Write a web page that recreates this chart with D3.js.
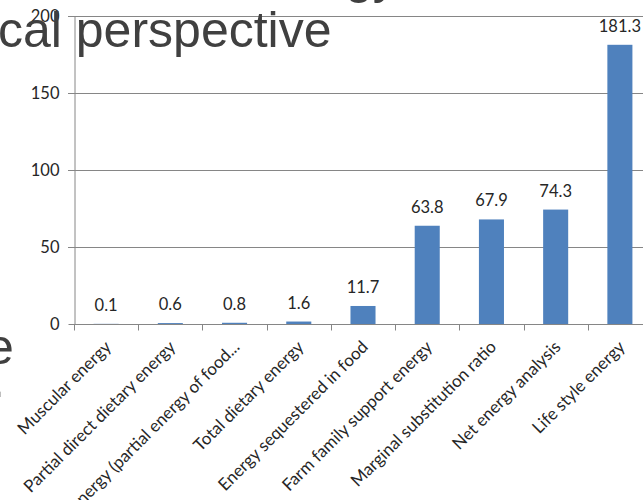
<!DOCTYPE html>
<html><head><meta charset="utf-8">
<script src="https://cdn.jsdelivr.net/npm/d3@7"></script>
<style>body{margin:0;background:#fff;overflow:hidden}svg{display:block}</style>
</head><body>
<script>
const categories = ["Muscular energy","Partial direct dietary energy","Indirect dietary energy (partial energy of food...","Total dietary energy","Energy sequestered in food","Farm family support energy","Marginal substitution ratio","Net energy analysis","Life style energy"];
const values = [0.1,0.6,0.8,1.6,11.7,63.8,67.9,74.3,181.3];
const yTicks = [0,50,100,150,200];

const W=643,H=500;
const svg=d3.select("body").append("svg").attr("width",W).attr("height",H);
const x=d3.scaleBand().domain(categories).range([74,652]).paddingInner(0.61).paddingOuter(0.305);
const y=d3.scaleLinear().domain([0,200]).range([324,16]);
const font="Lato, 'Open Sans', sans-serif";
const grey="#868686";
const txt="#262626";

// gridlines
svg.append("g").selectAll("line").data(yTicks.slice(1)).join("line")
  .attr("x1",68).attr("x2",W).attr("y1",d=>y(d)+0.5).attr("y2",d=>y(d)+0.5)
  .attr("stroke",grey).attr("stroke-width",1);

// y axis
const ya=svg.append("g").attr("transform","translate(74.5,0)")
  .call(d3.axisLeft(y).tickValues(yTicks).tickSize(6).tickPadding(9).tickSizeOuter(0));
ya.select(".domain").attr("stroke",grey);
ya.selectAll(".tick line").attr("stroke",grey);
ya.selectAll(".tick text").attr("font-family",font).attr("font-size","16.5px").attr("fill",txt);

// bars
svg.append("g").selectAll("rect").data(values).join("rect")
  .attr("x",(d,i)=>x(categories[i])).attr("width",x.bandwidth())
  .attr("y",d=>y(d)).attr("height",d=>y(0)-y(d)).attr("fill","#4F81BD");

// x axis
const xb=d3.scaleLinear().domain([0,categories.length]).range([74,652]);
const xa=svg.append("g").attr("transform","translate(0,324.5)");
xa.append("line").attr("x1",74).attr("x2",W).attr("stroke",grey);
xa.selectAll("line.t").data(d3.range(categories.length+1)).join("line").attr("class","t")
  .attr("x1",d=>Math.round(xb(d))+0.5).attr("x2",d=>Math.round(xb(d))+0.5).attr("y1",0).attr("y2",6).attr("stroke",grey);

// category labels
svg.append("g").selectAll("text").data(categories).join("text")
  .attr("transform",d=>`translate(${x(d)+x.bandwidth()/2+6},348) rotate(-45)`)
  .attr("text-anchor","end").attr("font-family",font).attr("font-size","17px").attr("fill",txt)
  .text(d=>d);

// data labels
svg.append("g").selectAll("text").data(values).join("text")
  .attr("x",(d,i)=>x(categories[i])+x.bandwidth()/2).attr("y",d=>y(d)-13)
  .attr("text-anchor","middle").attr("font-family",font).attr("font-size","16.5px").attr("fill",txt)
  .text(d=>d.toFixed(1));

// slide text overlay
const tf="'Liberation Sans', Arial, sans-serif";
svg.append("text").attr("x",-2).attr("y",47).attr("font-family",tf).attr("font-size","50px").attr("fill","#404040").text("cal perspective");
svg.append("text").attr("x",345).attr("y",-7).attr("font-family",tf).attr("font-size","50px").attr("fill","#404040").text("gy");
svg.append("text").attr("x",-14).attr("y",364).attr("font-family",tf).attr("font-size","50px").attr("fill","#404040").text("e");
svg.append("text").attr("x",-9).attr("y",397).attr("font-family",tf).attr("font-size","50px").attr("fill","#404040").text(".");
</script>
</body></html>
